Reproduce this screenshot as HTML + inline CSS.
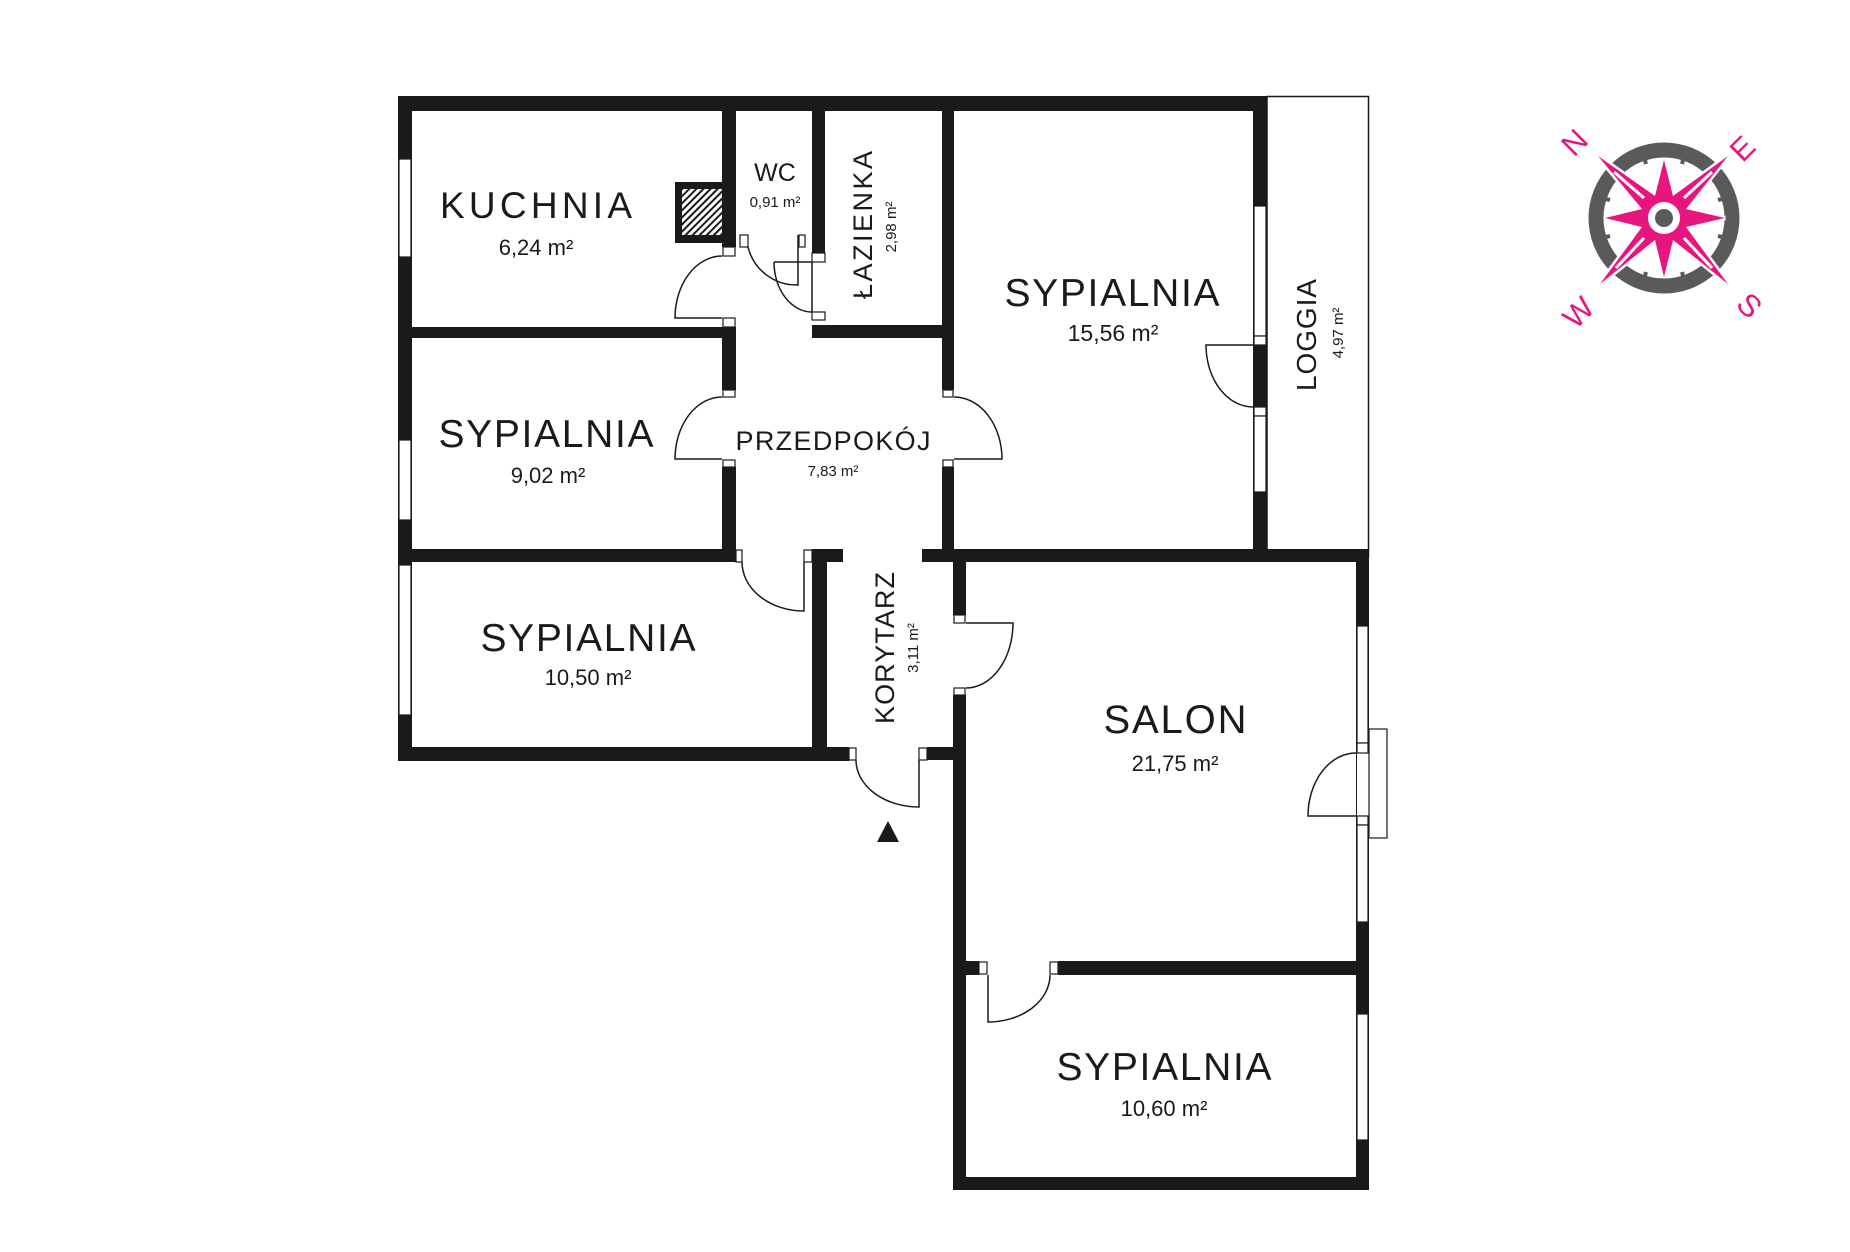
<!DOCTYPE html>
<html><head><meta charset="utf-8"><style>
html,body{margin:0;padding:0;background:#fff;}
svg{display:block;}
text{font-family:"Liberation Sans",sans-serif;fill:#1a1a1a;}
</style></head><body>
<svg width="1850" height="1252" viewBox="0 0 1850 1252" xmlns="http://www.w3.org/2000/svg">
<defs>
<pattern id="h" width="5" height="5" patternUnits="userSpaceOnUse" patternTransform="rotate(45)">
<rect width="5" height="5" fill="#fff"/><rect width="2" height="5" fill="#1a1a1a"/></pattern>
</defs>
<rect width="1850" height="1252" fill="#fff"/>
<rect x="1267" y="96.5" width="101.5" height="460" fill="none" stroke="#1a1a1a" stroke-width="1.5"/>
<g fill="#1a1a1a">
<rect x="398" y="96" width="869" height="15"/>
<rect x="398" y="96" width="14" height="665"/>
<rect x="398" y="747" width="451" height="14"/>
<rect x="722" y="96" width="14" height="151"/>
<rect x="675" y="182" width="61" height="61"/>
<rect x="398" y="327" width="338" height="11"/>
<rect x="722" y="338" width="14" height="52"/>
<rect x="722" y="467" width="14" height="95"/>
<rect x="398" y="549" width="338" height="13"/>
<rect x="812" y="96" width="13" height="157"/>
<rect x="812" y="325" width="141" height="13"/>
<rect x="942" y="96" width="12" height="294"/>
<rect x="942" y="467" width="12" height="82"/>
<rect x="812" y="549" width="31" height="13"/>
<rect x="812" y="549" width="15" height="212"/>
<rect x="922" y="549" width="447" height="13"/>
<rect x="1253" y="96" width="14" height="453"/>
<rect x="953" y="562" width="13" height="53"/>
<rect x="953" y="695" width="13" height="495"/>
<rect x="927" y="747" width="26" height="13"/>
<rect x="1356" y="549" width="13" height="641"/>
<rect x="953" y="961" width="26" height="14"/>
<rect x="1058" y="961" width="311" height="14"/>
<rect x="953" y="1177" width="416" height="13"/>
</g>
<rect x="682" y="189" width="40" height="46" fill="url(#h)"/>
<rect x="1356" y="753" width="13" height="63" fill="#fff"/>
<line x1="1356.5" y1="753" x2="1356.5" y2="816" stroke="#1a1a1a" stroke-width="1"/>
<g fill="#fff" stroke="#1a1a1a" stroke-width="1.2">
<rect x="399" y="159" width="12" height="98"/>
<rect x="399" y="440" width="12" height="80"/>
<rect x="399" y="565" width="12" height="150"/>
<rect x="1254" y="206" width="12" height="130"/>
<rect x="1254" y="336" width="12" height="9"/>
<rect x="1254" y="407" width="12" height="9"/>
<rect x="1254" y="416" width="12" height="76"/>
<rect x="1357" y="626" width="11" height="117"/>
<rect x="1357" y="743" width="11" height="10"/>
<rect x="1357" y="816" width="11" height="9"/>
<rect x="1357" y="825" width="11" height="97"/>
<rect x="1357" y="1014" width="11" height="126"/>
<rect x="1369" y="729" width="18" height="109"/>
<rect x="723" y="247" width="12" height="9"/>
<rect x="723" y="318" width="12" height="9"/>
<rect x="723" y="390" width="12" height="7"/>
<rect x="723" y="460" width="12" height="7"/>
<rect x="943" y="390" width="10" height="7"/>
<rect x="943" y="460" width="10" height="7"/>
<rect x="736" y="550" width="6" height="12"/>
<rect x="804" y="550" width="8" height="12"/>
<rect x="740" y="235" width="8" height="12"/>
<rect x="799" y="235" width="6" height="12"/>
<rect x="812" y="253" width="13" height="9"/>
<rect x="812" y="312" width="13" height="8"/>
<rect x="954" y="615" width="11" height="8"/>
<rect x="954" y="688" width="11" height="7"/>
<rect x="849" y="748" width="7" height="12"/>
<rect x="919" y="748" width="8" height="12"/>
<rect x="979" y="962" width="8" height="12"/>
<rect x="1050" y="962" width="8" height="12"/>
</g>
<g fill="none" stroke="#1a1a1a" stroke-width="1.5">
<path d="M722,318 H675 A47,62 0 0 1 722,256"/>
<path d="M722,459 H675 A47,62 0 0 1 722,397"/>
<path d="M954,459 H1002 A48,62 0 0 0 954,397"/>
<path d="M1253,345 H1206 A47,62 0 0 0 1253,407"/>
<path d="M804,562 V611 A62,49 0 0 1 742,562"/>
<path d="M919,760 V807 A63,47 0 0 1 856,760"/>
<path d="M966,623 H1013 A47,65 0 0 1 966,688"/>
<path d="M1356,816 H1308 A48,63 0 0 1 1356,753"/>
<path d="M988,975 V1022 A62,47 0 0 0 1050,975"/>
<path d="M798,235 V285 A50,50 0 0 1 748,247"/>
<path d="M774,262 H812 V312 M812,312 A38,50 0 0 1 774,262"/>
</g>
<polygon points="888,821 877,842 899,842" fill="#1a1a1a"/>
<text x="536" y="218" font-size="37" text-anchor="middle" textLength="192">KUCHNIA</text>
<text x="536" y="255" font-size="22" text-anchor="middle">6,24 m²</text>
<text x="775" y="181" font-size="25" text-anchor="middle">WC</text>
<text x="775" y="207" font-size="15" text-anchor="middle">0,91 m²</text>
<text transform="translate(872,225) rotate(-90)" font-size="27" text-anchor="middle" textLength="148">ŁAZIENKA</text>
<text transform="translate(896,227) rotate(-90)" font-size="15" text-anchor="middle">2,98 m²</text>
<text x="546" y="447" font-size="39" text-anchor="middle" textLength="215">SYPIALNIA</text>
<text x="548" y="483" font-size="22" text-anchor="middle">9,02 m²</text>
<text x="833" y="450" font-size="27" text-anchor="middle" textLength="195">PRZEDPOKÓJ</text>
<text x="833" y="476" font-size="15" text-anchor="middle">7,83 m²</text>
<text x="1112" y="306" font-size="39" text-anchor="middle" textLength="215">SYPIALNIA</text>
<text x="1113" y="341" font-size="23" text-anchor="middle">15,56 m²</text>
<text transform="translate(1316,335) rotate(-90)" font-size="28" text-anchor="middle" textLength="112">LOGGIA</text>
<text transform="translate(1343,333) rotate(-90)" font-size="15" text-anchor="middle">4,97 m²</text>
<text x="588" y="651" font-size="39" text-anchor="middle" textLength="215">SYPIALNIA</text>
<text x="588" y="685" font-size="22" text-anchor="middle">10,50 m²</text>
<text transform="translate(894,648) rotate(-90)" font-size="27" text-anchor="middle" textLength="152">KORYTARZ</text>
<text transform="translate(918,648) rotate(-90)" font-size="15" text-anchor="middle">3,11 m²</text>
<text x="1175" y="733" font-size="40" text-anchor="middle" textLength="143">SALON</text>
<text x="1175" y="771" font-size="22" text-anchor="middle">21,75 m²</text>
<text x="1164" y="1080" font-size="39" text-anchor="middle" textLength="215">SYPIALNIA</text>
<text x="1164" y="1116" font-size="22" text-anchor="middle">10,60 m²</text>
<g transform="translate(1664,218)">
<circle r="68" fill="none" stroke="#5a5a5a" stroke-width="15"/>
<g stroke="#5a5a5a" stroke-width="4">
<line x1="-20" y1="-62" x2="-18" y2="-54"/><line x1="20" y1="-62" x2="18" y2="-54"/>
<line x1="-20" y1="62" x2="-18" y2="54"/><line x1="20" y1="62" x2="18" y2="54"/>
<line x1="-62" y1="-20" x2="-54" y2="-18"/><line x1="-62" y1="20" x2="-54" y2="18"/>
<line x1="62" y1="-20" x2="54" y2="-18"/><line x1="62" y1="20" x2="54" y2="18"/>
</g>
<polygon points="-66,-62 -9,-22 0,-58 9,-22 64,-62 22,-9 61,0 22,9 64,66 9,22 0,59 -9,22 -64,66 -22,9 -59,0 -22,-9" fill="#e8157f" stroke="#fff" stroke-width="5" stroke-linejoin="miter"/>
<polygon points="-66,-62 -9,-22 0,-58 9,-22 64,-62 22,-9 61,0 22,9 64,66 9,22 0,59 -9,22 -64,66 -22,9 -59,0 -22,-9" fill="#e8157f"/>
<g stroke="#fff" stroke-width="3"><line x1="-50" y1="-46" x2="-20" y2="-20"/><line x1="48" y1="-46" x2="20" y2="-20"/><line x1="-48" y1="50" x2="-20" y2="20"/><line x1="48" y1="50" x2="20" y2="20"/></g>
<circle r="22" fill="#e8157f"/>
<circle r="16" fill="#fff"/>
<circle r="9" fill="#5a5a5a"/>
</g>
<g font-size="31">
<text transform="translate(1582,150) rotate(-45)" text-anchor="middle" style="fill:#e8157f">N</text>
<text transform="translate(1750,156) rotate(-45)" text-anchor="middle" style="fill:#e8157f">E</text>
<text transform="translate(1586,320) rotate(-45)" text-anchor="middle" style="fill:#e8157f">W</text>
<text transform="translate(1742,313) rotate(45)" text-anchor="middle" style="fill:#e8157f">S</text>
</g>
</svg>
</body></html>
